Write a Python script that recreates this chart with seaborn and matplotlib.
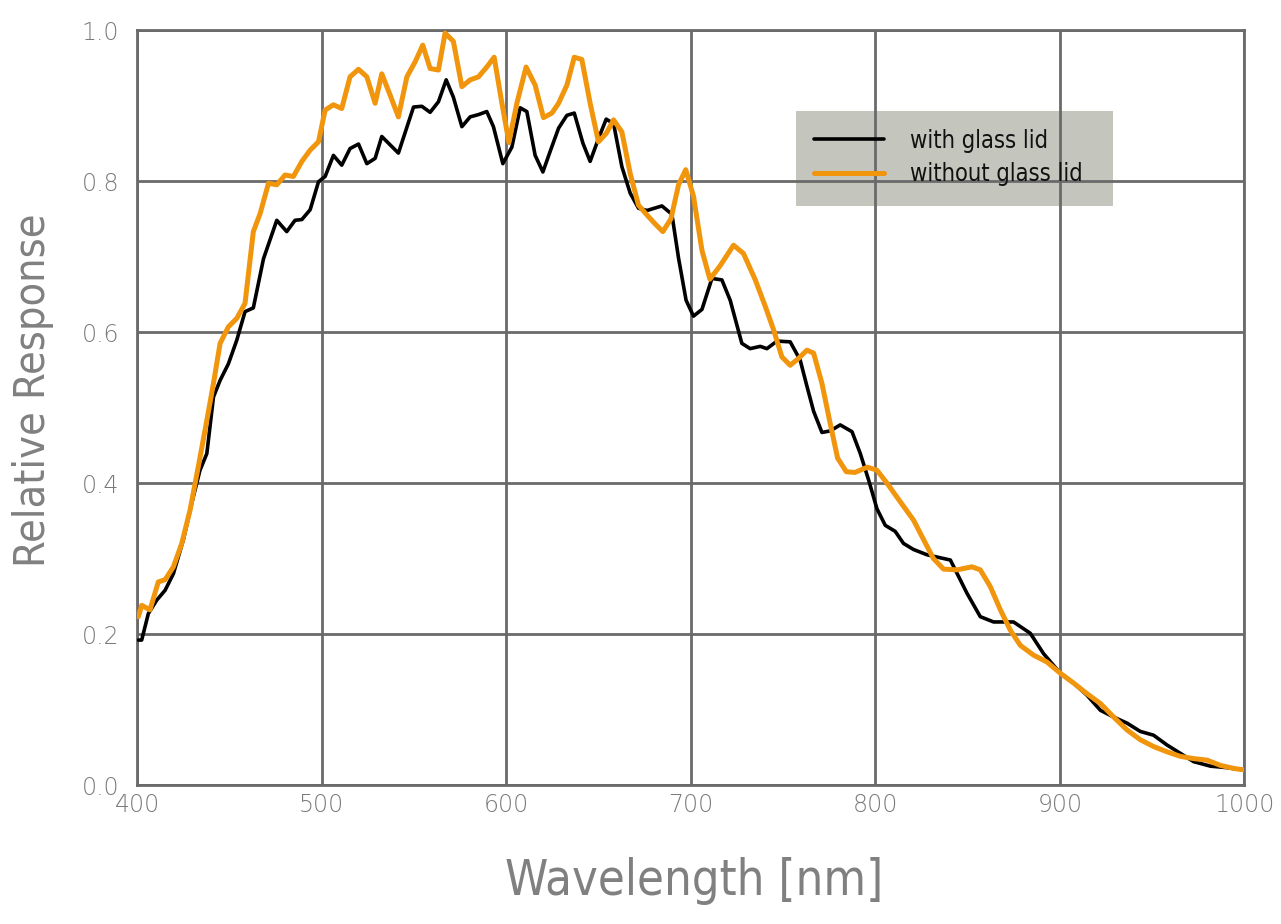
import numpy as np
import pandas as pd
import matplotlib
matplotlib.use("Agg")
import matplotlib.pyplot as plt
from matplotlib.patches import Rectangle
import seaborn as sns

# wavelength [nm] / relative response
wl_with = [400.7, 402.5, 406.1, 410.7, 415.2, 419.7, 425.1, 429.6, 434.1, 437.8,
           441.4, 445.0, 449.5, 454.0, 458.5, 463.0, 468.5, 475.7, 481.1, 485.6,
           489.3, 493.8, 498.3, 501.9, 506.4, 510.9, 515.4, 520.0, 524.5, 529.0,
           532.6, 537.1, 541.6, 549.8, 554.3, 558.8, 563.3, 567.5, 571.4, 576.0,
           580.5, 585.0, 589.5, 593.1, 598.2, 603.1, 607.6, 611.2, 615.7, 619.9,
           623.8, 628.4, 632.9, 636.9, 641.6, 645.5, 650.0, 654.2, 658.2, 662.7,
           667.2, 671.7, 676.3, 684.4, 689.8, 693.4, 697.5, 701.5, 706.1, 711.5,
           716.9, 721.4, 727.7, 732.2, 737.7, 741.3, 746.7, 753.9, 759.3, 763.0,
           766.6, 771.1, 775.6, 781.0, 787.4, 791.9, 796.4, 800.9, 805.4, 810.8,
           815.3, 820.7, 828.0, 833.4, 840.7, 845.2, 849.7, 856.9, 864.1, 874.9,
           884.0, 891.2, 900.3, 907.5, 914.7, 922.0, 929.2, 936.4, 943.6, 950.8,
           958.1, 965.3, 972.5, 981.6, 990.6, 999.6]
resp_with = [0.192, 0.192, 0.227, 0.245, 0.258, 0.280, 0.325, 0.373, 0.417, 0.439,
             0.514, 0.536, 0.558, 0.589, 0.627, 0.632, 0.697, 0.748, 0.733, 0.748,
             0.749, 0.762, 0.799, 0.806, 0.834, 0.821, 0.843, 0.849, 0.823, 0.830,
             0.859, 0.848, 0.837, 0.898, 0.899, 0.891, 0.905, 0.934, 0.911, 0.872,
             0.885, 0.888, 0.892, 0.872, 0.823, 0.845, 0.897, 0.892, 0.834, 0.812,
             0.839, 0.870, 0.887, 0.890, 0.850, 0.826, 0.856, 0.882, 0.876, 0.819,
             0.784, 0.764, 0.761, 0.767, 0.756, 0.698, 0.642, 0.621, 0.630, 0.671,
             0.669, 0.642, 0.585, 0.578, 0.581, 0.578, 0.588, 0.587, 0.563, 0.528,
             0.495, 0.467, 0.469, 0.477, 0.468, 0.439, 0.404, 0.366, 0.344, 0.336,
             0.320, 0.312, 0.305, 0.302, 0.298, 0.276, 0.254, 0.223, 0.216, 0.216,
             0.201, 0.174, 0.148, 0.135, 0.119, 0.099, 0.090, 0.082, 0.071, 0.066,
             0.053, 0.042, 0.031, 0.025, 0.023, 0.020]

wl_without = [400.7, 402.5, 407.0, 411.5, 415.2, 419.7, 424.2, 428.7, 433.2, 437.8,
              441.4, 445.0, 449.5, 454.0, 458.5, 463.0, 466.7, 471.2, 475.7, 480.2,
              484.7, 489.3, 493.8, 498.3, 501.9, 506.4, 510.9, 515.4, 520.0, 524.5,
              529.0, 532.6, 537.1, 541.6, 546.2, 550.7, 554.8, 558.8, 563.3, 566.9,
              571.4, 576.0, 580.5, 585.0, 589.5, 593.5, 597.7, 601.5, 605.8, 610.8,
              615.7, 620.2, 624.8, 628.4, 632.9, 636.9, 641.0, 645.5, 650.0, 654.2,
              658.2, 662.7, 667.2, 671.7, 676.3, 680.8, 684.9, 689.3, 693.4, 697.3,
              701.5, 706.1, 710.4, 716.0, 723.2, 728.6, 735.0, 740.4, 744.9, 749.4,
              753.9, 758.4, 763.0, 766.6, 771.1, 775.4, 779.6, 784.3, 789.0, 795.7,
              800.9, 806.3, 813.6, 820.7, 826.2, 831.5, 837.0, 844.2, 852.4, 856.9,
              862.3, 867.8, 873.2, 878.6, 885.8, 893.0, 900.3, 907.5, 914.7, 922.0,
              929.2, 936.4, 943.6, 950.8, 958.1, 965.3, 972.5, 979.8, 987.0, 994.2,
              1000.0]
resp_without = [0.223, 0.238, 0.232, 0.269, 0.272, 0.289, 0.320, 0.364, 0.422, 0.483,
                0.532, 0.585, 0.607, 0.618, 0.638, 0.733, 0.757, 0.797, 0.795, 0.808,
                0.806, 0.826, 0.841, 0.852, 0.894, 0.901, 0.896, 0.938, 0.948, 0.938,
                0.903, 0.942, 0.914, 0.885, 0.938, 0.958, 0.980, 0.949, 0.947, 0.996,
                0.985, 0.925, 0.934, 0.938, 0.951, 0.964, 0.903, 0.851, 0.903, 0.951,
                0.927, 0.884, 0.890, 0.903, 0.927, 0.964, 0.961, 0.903, 0.852, 0.863,
                0.881, 0.865, 0.810, 0.768, 0.755, 0.743, 0.733, 0.750, 0.795, 0.815,
                0.780, 0.708, 0.670, 0.688, 0.715, 0.704, 0.669, 0.634, 0.603, 0.567,
                0.556, 0.565, 0.576, 0.572, 0.532, 0.481, 0.433, 0.415, 0.414, 0.421,
                0.417, 0.400, 0.375, 0.351, 0.325, 0.300, 0.286, 0.285, 0.289, 0.285,
                0.263, 0.232, 0.205, 0.185, 0.172, 0.163, 0.148, 0.135, 0.121, 0.108,
                0.090, 0.073, 0.060, 0.051, 0.044, 0.038, 0.035, 0.033, 0.026, 0.022,
                0.020]

labels = ["with glass lid", "without glass lid"]
x_ticks = [400, 500, 600, 700, 800, 900, 1000]
y_ticks = [0.0, 0.2, 0.4, 0.6, 0.8, 1.0]

df = pd.concat([
    pd.DataFrame({"wl": wl_with, "resp": resp_with, "series": labels[0]}),
    pd.DataFrame({"wl": wl_without, "resp": resp_without, "series": labels[1]}),
])

sns.set_style("white")
plt.rcParams["font.family"] = ["DejaVu Sans"]
plt.rcParams["font.stretch"] = "condensed"

fig = plt.figure(figsize=(12.81, 9.24), dpi=100)
ax = fig.add_axes([0.107, 0.1504, 0.8644, 0.8171])

palette = {labels[0]: "#000000", labels[1]: "#f0950c"}
sns.lineplot(data=df, x="wl", y="resp", hue="series", palette=palette,
             sort=False, estimator=None, ax=ax, legend=False, zorder=3)
ax.lines[0].set_linewidth(2.6)
ax.lines[1].set_linewidth(3.6)
for ln in ax.lines:
    ln.set_solid_joinstyle("round")

ax.set_xlim(400, 1000)
ax.set_ylim(0, 1.0)
ax.set_xticks(x_ticks)
ax.set_yticks(y_ticks)
ax.set_yticklabels([f"{v:.1f}" for v in y_ticks])
ax.tick_params(axis="both", labelsize=17, labelcolor="#7a7a7a", length=0)
ax.tick_params(axis="x", pad=6)
ax.tick_params(axis="y", pad=13)
for lab in ax.get_xticklabels() + ax.get_yticklabels():
    lab.set_fontstretch("normal")
    lab.set_fontweight("light")

ax.grid(True, color="#6a6a6a", linewidth=2.0, zorder=1)
ax.set_axisbelow(False)
for s in ax.spines.values():
    s.set_color("#6a6a6a")
    s.set_linewidth(2.0)

ax.set_xlabel("Wavelength [nm]", fontsize=35, color="#808080")
ax.set_ylabel("Relative Response", fontsize=31, color="#808080")
ax.xaxis.set_label_coords(0.503, -0.095)
ax.yaxis.set_label_coords(-0.075, 0.523)

# grey legend panel sits under the grid, legend text on top
ax.add_patch(Rectangle((0.595, 0.767), 0.286, 0.126, transform=ax.transAxes,
                       facecolor="#c4c5bd", edgecolor="none", zorder=0.5))
handles = [plt.Line2D([], [], color="#000000", lw=2.6),
           plt.Line2D([], [], color="#f0950c", lw=3.6)]
leg = ax.legend(handles, labels, loc="upper left", bbox_to_anchor=(0.595, 0.893),
                borderaxespad=0, borderpad=0.75, fontsize=17, handlelength=3.0,
                handletextpad=1.1, labelspacing=0.4, frameon=False)
for t in leg.get_texts():
    t.set_color("#111111")

fig.savefig("out.png", dpi=100)
